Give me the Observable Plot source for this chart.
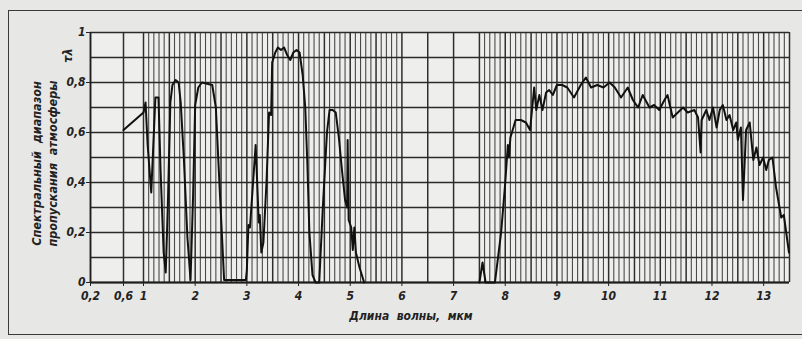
<!DOCTYPE html>
<html><head><meta charset="utf-8">
<script src="https://cdn.jsdelivr.net/npm/d3@7"></script>
<script src="https://cdn.jsdelivr.net/npm/@observablehq/plot@0.6"></script>
<style>
html,body{margin:0;padding:0;background:#e7e7e5;}
#wrap{position:relative;width:802px;height:339px;overflow:hidden;}
#frame{position:absolute;left:8px;top:10px;width:796px;height:323px;border:1.5px solid #3a3a3a;border-right:none;pointer-events:none;}
svg{font-family:"DejaVu Sans Condensed","DejaVu Sans",sans-serif;font-style:italic;font-weight:bold;}
</style></head><body><div id="wrap"><div id="frame"></div></div>
<script>
// Short-wave part (0.6 – 5.3 µm)
const lambdaA = [0.6,1.0,1.04,1.08,1.15,1.19,1.23,1.29,1.33,1.39,1.43,1.47,1.52,1.56,1.62,1.68,1.72,1.78,1.85,1.91,1.96,2.0,2.06,2.13,2.33,2.4,2.48,2.56,2.98,3.0,3.03,3.06,3.12,3.17,3.2,3.23,3.25,3.28,3.32,3.38,3.43,3.47,3.49,3.55,3.6,3.66,3.72,3.78,3.84,3.9,3.96,4.02,4.08,4.13,4.17,4.21,4.27,4.33,4.4,4.47,4.55,4.6,4.66,4.72,4.78,4.84,4.9,4.94,4.95,4.97,5.02,5.05,5.08,5.11,5.18,5.27];
const tauA    = [0.61,0.68,0.72,0.55,0.36,0.55,0.74,0.74,0.45,0.12,0.04,0.3,0.72,0.79,0.81,0.80,0.72,0.50,0.18,0.01,0.35,0.71,0.78,0.80,0.79,0.70,0.35,0.01,0.01,0.05,0.23,0.22,0.40,0.55,0.40,0.24,0.27,0.12,0.16,0.40,0.68,0.67,0.88,0.92,0.94,0.93,0.94,0.91,0.89,0.92,0.93,0.92,0.83,0.70,0.48,0.20,0.03,0.0,0.0,0.3,0.6,0.69,0.69,0.68,0.58,0.45,0.33,0.30,0.57,0.25,0.22,0.13,0.22,0.12,0.06,0.0];
// Long-wave part (7.5 – 13.5 µm)
const lambdaB = [7.5,7.56,7.62,7.8,7.92,8.0,8.05,8.07,8.1,8.2,8.3,8.4,8.48,8.56,8.6,8.66,8.72,8.79,8.85,8.92,9.0,9.1,9.2,9.33,9.46,9.56,9.66,9.78,9.9,10.02,10.12,10.24,10.37,10.47,10.57,10.66,10.79,10.88,10.98,11.08,11.14,11.24,11.34,11.44,11.53,11.66,11.73,11.78,11.8,11.89,11.95,12.02,12.09,12.15,12.21,12.28,12.34,12.41,12.47,12.5,12.56,12.6,12.66,12.73,12.8,12.86,12.92,12.99,13.05,13.1,13.17,13.24,13.34,13.39,13.49];
const tauB    = [0.0,0.08,0.0,0.0,0.2,0.4,0.55,0.50,0.58,0.65,0.65,0.64,0.61,0.78,0.69,0.75,0.69,0.76,0.77,0.75,0.79,0.79,0.78,0.74,0.79,0.82,0.78,0.79,0.78,0.80,0.78,0.74,0.78,0.73,0.70,0.75,0.70,0.71,0.69,0.73,0.75,0.66,0.68,0.70,0.68,0.69,0.66,0.52,0.65,0.69,0.65,0.70,0.62,0.69,0.71,0.65,0.67,0.61,0.64,0.57,0.62,0.33,0.61,0.64,0.49,0.54,0.47,0.50,0.45,0.49,0.50,0.38,0.26,0.27,0.12];

const xTickLabels = [0.2,0.6,1,2,3,4,5,6,7,8,9,10,11,12,13];
const yTickLabels = [0,0.2,0.4,0.6,0.8,1];
const xBreaks = [0.2,0.6,1,13.5];

const fmt = d => String(d).replace(".", ",");
const seriesA = lambdaA.map((l,i)=>({l, t: tauA[i]}));
const seriesB = lambdaB.map((l,i)=>({l, t: tauB[i]}));

const fineA = d3.range(10, 60).map(v => v/10);
const fineB = d3.range(75, 135).map(v => v/10);
const fine = fineA.concat(fineB).filter(v => Math.round(v*10) % 5 !== 0);
const half = d3.range(2, 28).map(v => v/2);
const coarse = [0.6];
const hLines = d3.range(0, 11).map(v => v/10);

const chart = Plot.plot({
  width: 802, height: 339,
  marginLeft: 90, marginRight: 13, marginTop: 32, marginBottom: 57,
  style: {background: "transparent", fontSize: "12px", color: "#222"},
  x: {type: "linear", domain: xBreaks, range: [90, 123, 143, 789]},
  y: {domain: [0, 1], range: [282, 32]},
  marks: [
    Plot.rect([0], {x1: 0.2, x2: 13.5, y1: 0, y2: 1, fill: "#eeeeec"}),
    Plot.ruleX(fine, {y1: 0, y2: 1, stroke: "#4a4a4a", strokeWidth: 1.1}),
    Plot.ruleX(half.concat(coarse), {y1: 0, y2: 1, stroke: "#2e2e2e", strokeWidth: 1.5}),
    Plot.ruleY(hLines, {x1: 0.2, x2: 13.5, stroke: "#2a2a2a", strokeWidth: 1.7}),
    Plot.ruleX([0.2], {y1: 0, y2: 1, stroke: "#1e1e1e", strokeWidth: 1.9}),
    Plot.ruleY([0], {x1: 0.2, x2: 13.5, stroke: "#1e1e1e", strokeWidth: 1.9}),
    Plot.axisX({ticks: xTickLabels, tickFormat: fmt, tickSize: 4, tickPadding: 5, label: null, fontSize: 12}),
    Plot.axisY({ticks: yTickLabels, tickFormat: fmt, tickSize: 4, tickPadding: 1, label: null, fontSize: 12}),
    Plot.line(seriesA, {x: "l", y: "t", stroke: "#111", strokeWidth: 2, curve: "linear"}),
    Plot.line(seriesB, {x: "l", y: "t", stroke: "#111", strokeWidth: 2, curve: "linear"}),
    Plot.text(["Спектральный  диапазон"], {frameAnchor: "left", textAnchor: "middle", rotate: -90, dx: -54, dy: 6, fontSize: 12.5, fill: "#222"}),
    Plot.text(["пропускания  атмосферы"], {frameAnchor: "left", textAnchor: "middle", rotate: -90, dx: -38, dy: 6, fontSize: 12.5, fill: "#222"}),
    Plot.text(["τλ"], {frameAnchor: "top-left", textAnchor: "middle", rotate: -90, dx: -27, dy: 23, fontSize: 12.5, fill: "#222"}),
    Plot.text(["Длина  волны,  мкм"], {frameAnchor: "bottom", dx: -29, dy: 37, fontSize: 12, fill: "#222"})
  ]
});
document.getElementById("wrap").prepend(chart);
</script>
</body></html>
